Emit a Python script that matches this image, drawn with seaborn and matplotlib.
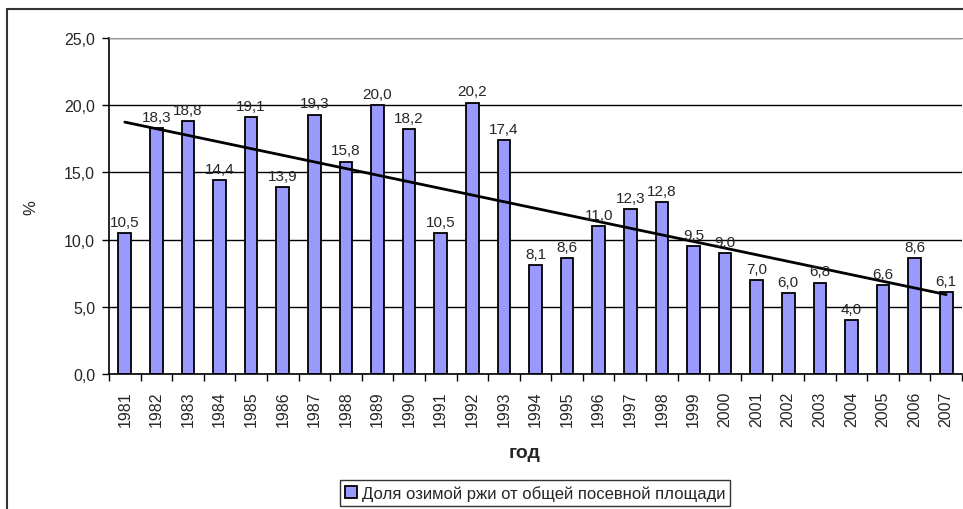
import numpy as np
import pandas as pd
import seaborn as sns
import matplotlib.pyplot as plt
from matplotlib.patches import Rectangle

# Данные
years = [str(y) for y in range(1981, 2008)]
share = [10.5, 18.3, 18.8, 14.4, 19.1, 13.9, 19.3, 15.8, 20.0, 18.2,
         10.5, 20.2, 17.4, 8.1, 8.6, 11.0, 12.3, 12.8, 9.5, 9.0,
         7.0, 6.0, 6.8, 4.0, 6.6, 8.6, 6.1]
series_name = "Доля озимой ржи от общей посевной площади"

df = pd.DataFrame({"год": years, "доля": share})

sns.set_style("white")
plt.rcParams['font.family'] = ['Liberation Sans', 'DejaVu Sans']

fig = plt.figure(figsize=(9.63, 5.10), dpi=100)
ax = fig.add_axes([109 / 963, 1 - 375 / 510, 853 / 963, 336 / 510])

sns.barplot(data=df, x="год", y="доля", color="#9999FF", width=0.4,
            edgecolor="black", linewidth=1.3, saturation=1, ax=ax,
            label=series_name, legend=False)

# подписи значений
labels = [f"{v:.1f}".replace(".", ",") for v in share]
ax.bar_label(ax.containers[0], labels=labels, padding=3, fontsize=11)

# линейный тренд
xs = np.arange(len(share))
k, b = np.polyfit(xs, share, 1)
ax.plot(xs, k * xs + b, color="black", linewidth=2)

ax.set_ylim(0, 25)
ax.set_xlim(-0.5, len(share) - 0.5)
ax.set_yticks(np.arange(0, 26, 5))
ax.set_yticklabels([f"{v:.1f}".replace(".", ",") for v in np.arange(0, 26, 5)], fontsize=11.5)
ax.yaxis.grid(True, color="black", linewidth=1)
ax.set_axisbelow(True)
ax.tick_params(axis="y", direction="out", length=5, width=1, color="black", left=True, pad=5)

ax.set_xticks(xs)
ax.set_xticklabels(years, rotation=90, fontsize=11.5)
ax.tick_params(axis="x", which="major", length=0, pad=12)
ax.set_xticks(np.arange(-0.5, len(share), 1), minor=True)
ax.tick_params(axis="x", which="minor", direction="out", length=5, width=1, color="black", bottom=True)

for side in ["left", "bottom"]:
    ax.spines[side].set_color("black")
    ax.spines[side].set_linewidth(1.2)
ax.spines["top"].set_color("#999999")
ax.spines["right"].set_visible(False)

ax.set_xlabel("год", fontsize=14, fontweight="bold")
ax.set_ylabel("%", fontsize=12)
ax.xaxis.set_label_coords((525 - 109) / 853, -(445 - 375) / 336)
ax.yaxis.set_label_coords(-(109 - 38) / 853, (375 - 208) / 336)

# рамка диаграммы
fig.patches.append(Rectangle((7 / 963, -0.1), 1.2, 1 - 10 / 510 + 0.1,
                             transform=fig.transFigure, fill=False,
                             edgecolor="#333333", linewidth=1.5))

handles, lbls = ax.get_legend_handles_labels()
leg = fig.legend(handles[:1], [series_name], loc="center",
                 bbox_to_anchor=(535 / 963, 1 - 494 / 510), fontsize=12,
                 frameon=True, fancybox=False, edgecolor="black",
                 handlelength=0.7, handleheight=0.7, handletextpad=0.3,
                 borderpad=0.3)
leg.get_frame().set_linewidth(1)

fig.savefig("out.png", dpi=100)
